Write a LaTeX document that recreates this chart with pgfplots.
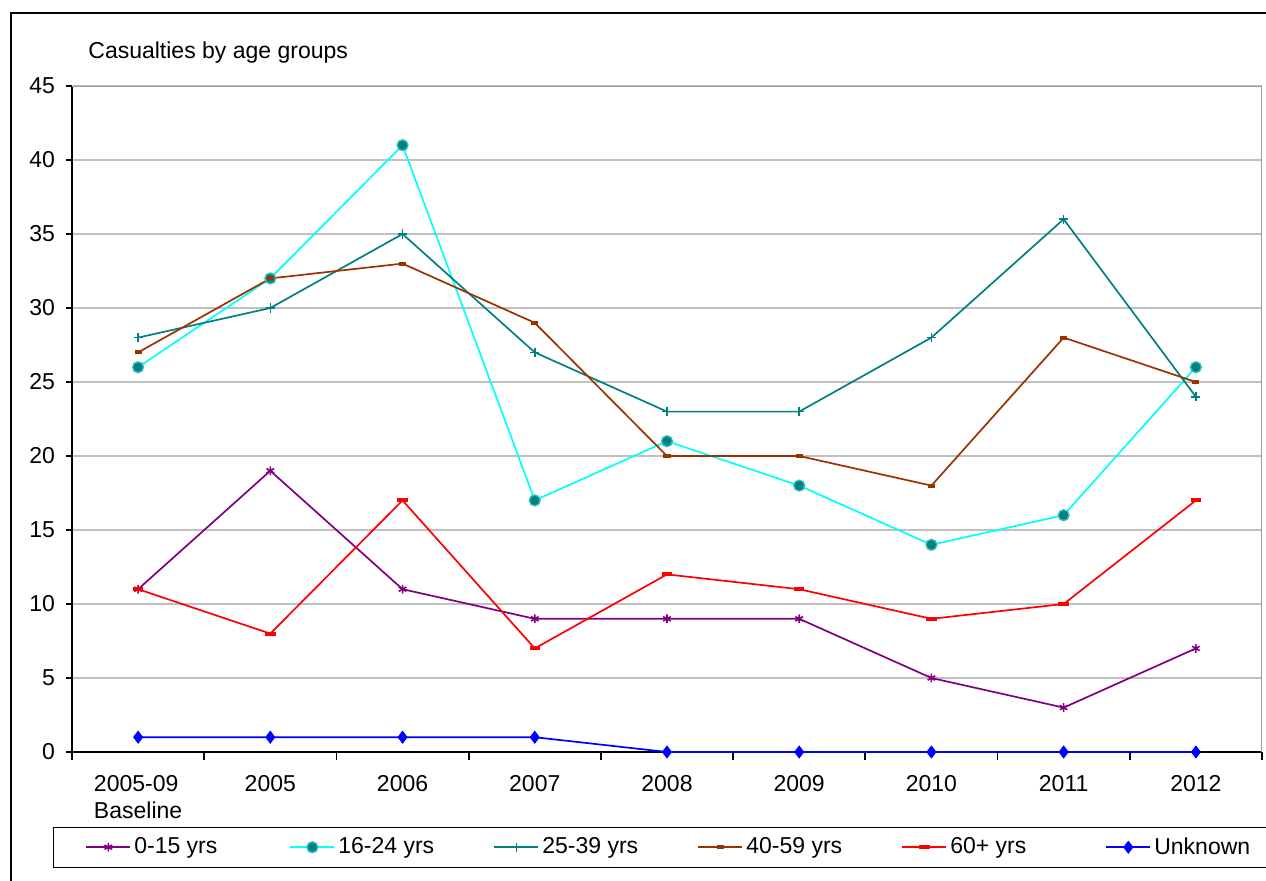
\documentclass[border=0pt]{standalone}
\usepackage{pgfplots}
\pgfplotsset{compat=1.18}
\usepackage{fontspec}
\setmainfont{Liberation Sans}

\definecolor{cPurple}{HTML}{800080}
\definecolor{cCyan}{HTML}{00FFFF}
\definecolor{cTeal}{HTML}{008080}
\definecolor{cTealRim}{HTML}{33BBBB}
\definecolor{cBrown}{HTML}{993300}
\definecolor{cRed}{HTML}{FF0000}
\definecolor{cBlue}{HTML}{0000FF}
\definecolor{cGrid}{HTML}{C0C0C0}
\definecolor{cFrame}{HTML}{A0A0A0}

\begin{document}
\begin{tikzpicture}[font=\fontsize{11.5}{13.8}\selectfont]
\path[use as bounding box] (0pt,0pt) rectangle (633pt,440pt);
% outer chart frame
\draw[line width=1.4pt] (5.5pt,-10pt) -- (5.5pt,433.5pt) -- (700pt,433.5pt);
\node[anchor=base west, inner sep=0pt] at (44pt,410.5pt) {Casualties by age groups};
\begin{axis}[
  at={(36pt,64pt)}, anchor=south west,
  scale only axis, width=595pt, height=333pt,
  xmin=-0.5, xmax=8.5, ymin=0, ymax=45,
  axis lines*=left,
  axis line style={black, line width=0.9pt},
  tick align=outside,
  ytick={0,5,...,45},
  xtick={0,...,8},
  xticklabels={{2005-09\\Baseline},2005,2006,2007,2008,2009,2010,2011,2012},
  xticklabel style={align=left, anchor=north, yshift=-5pt},
  minor xtick={-0.5,0.5,...,8.5},
  major x tick style={draw=none},
  minor x tick style={black, line width=0.9pt},
  major y tick style={black, line width=0.9pt},
  minor tick length=4pt,
  major tick length=3pt,
  yticklabel style={/pgf/number format/assume math mode=true, xshift=-2pt},
  ymajorgrids,
  grid style={cGrid, line width=0.8pt},
  legend columns=6,
  legend image code/.code={\draw[line width=1pt, mark repeat=2, mark phase=2] plot coordinates {(0pt,0pt) (11pt,0pt) (22pt,0pt)};},
  legend style={at={(-0.016,-0.1126)}, anchor=north west, draw=black,
    inner xsep=16pt, inner ysep=3pt,
    nodes={inner xsep=1.5pt, inner ysep=2pt},
    /tikz/every odd column/.append style={column sep=0pt},
    /tikz/every even column/.append style={column sep=0pt}},
  legend cell align=left,
]
\draw[cFrame, line width=0.9pt] (rel axis cs:0,1) -- (rel axis cs:1,1) -- (rel axis cs:1,0);

\addplot[cPurple, line width=0.85pt, mark=asterisk, mark size=2.2pt, mark options={line width=0.8pt}]
  coordinates {(0,11) (1,19) (2,11) (3,9) (4,9) (5,9) (6,5) (7,3) (8,7)};
\addlegendentry{\makebox[76pt][l]{0-15 yrs}}

\addplot[cCyan, line width=0.85pt, mark=*, mark size=2.7pt, mark options={fill=cTeal, draw=cTealRim, line width=0.7pt}]
  coordinates {(0,26) (1,32) (2,41) (3,17) (4,21) (5,18) (6,14) (7,16) (8,26)};
\addlegendentry{\makebox[76pt][l]{16-24 yrs}}

\addplot[cTeal, line width=0.85pt, mark=+, mark size=2.3pt, mark options={line width=0.8pt}]
  coordinates {(0,28) (1,30) (2,35) (3,27) (4,23) (5,23) (6,28) (7,36) (8,24)};
\addlegendentry{\makebox[76pt][l]{25-39 yrs}}

\addplot[cBrown, line width=0.85pt, mark=-, mark size=1.8pt, mark options={line width=2pt}]
  coordinates {(0,27) (1,32) (2,33) (3,29) (4,20) (5,20) (6,18) (7,28) (8,25)};
\addlegendentry{\makebox[76pt][l]{40-59 yrs}}

\addplot[cRed, line width=0.85pt, mark=-, mark size=2.6pt, mark options={line width=2pt}]
  coordinates {(0,11) (1,8) (2,17) (3,7) (4,12) (5,11) (6,9) (7,10) (8,17)};
\addlegendentry{\makebox[76pt][l]{60+ yrs}}

\addplot[cBlue, line width=0.85pt, mark=diamond*, mark size=3pt, mark options={fill=cBlue, line width=0.4pt}]
  coordinates {(0,1) (1,1) (2,1) (3,1) (4,0) (5,0) (6,0) (7,0) (8,0)};
\addlegendentry{Unknown}
\end{axis}
\end{tikzpicture}
\end{document}
